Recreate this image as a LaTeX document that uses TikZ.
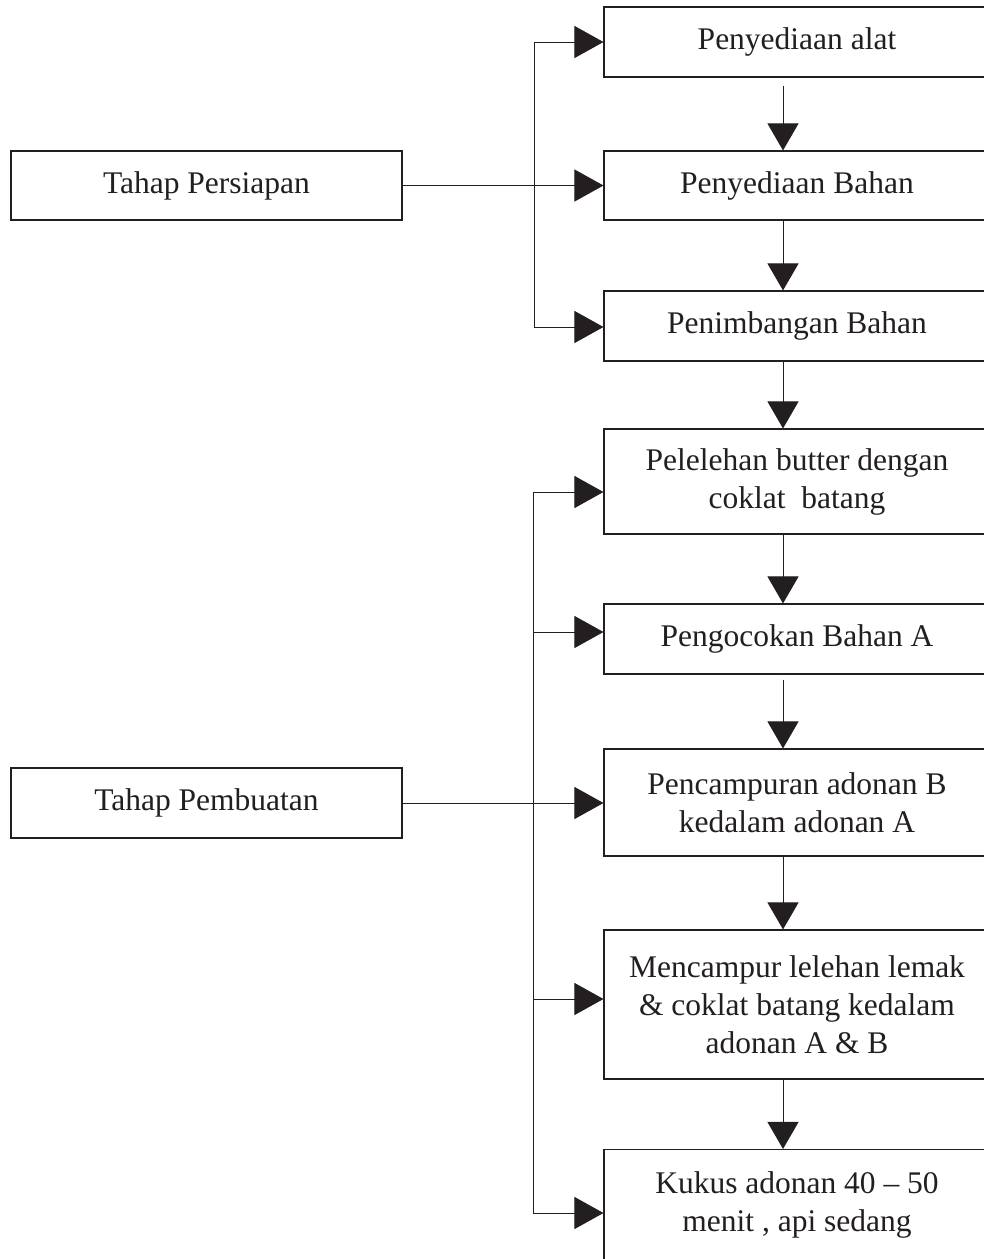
\documentclass[tikz,border=0pt]{standalone}
\usepackage{fontspec}
\setmainfont{Liberation Serif}
\usetikzlibrary{arrows.meta}
\definecolor{ink}{HTML}{231F20}
\begin{document}
\begin{tikzpicture}[x=1pt,y=-1pt,
  box/.style={draw=ink,line width=1.1pt,text=ink,inner sep=0pt,align=center,
    font=\fontsize{31.5}{38}\selectfont},
  rbox/.style={box,minimum width=386pt},
  lbox/.style={box,minimum width=391pt},
  harr/.style={draw=ink,line width=0.9pt,-{Triangle[length=29pt,width=32pt]}},
  varr/.style={draw=ink,line width=0.9pt,-{Triangle[length=27pt,width=31pt]}},
  link/.style={draw=ink,line width=0.9pt}]
\clip (0,0) rectangle (984,1259);
\fill[white] (0,0) rectangle (984,1259);
% right column
\node[rbox,minimum height=70pt] (pa) at (797,42) {Penyediaan alat};
\node[rbox,minimum height=69pt] (pb) at (797,185.5) {Penyediaan Bahan};
\node[rbox,minimum height=70pt] (pn) at (797,326) {Penimbangan Bahan};
\node[rbox,minimum height=105pt] (pl) at (797,481.5) {Pelelehan butter dengan\\coklat\ \ batang};
\node[rbox,minimum height=70pt] (pg) at (797,639) {\raisebox{7pt}{Pengocokan Bahan A}};
\node[rbox,minimum height=107pt] (pc) at (797,802.5) {Pencampuran adonan B\\kedalam adonan A};
\node[rbox,minimum height=149pt] (mc) at (797,1004.5) {Mencampur lelehan lemak\\\&\ coklat batang kedalam\\adonan A \& B};
\node[rbox,minimum height=110pt] (kk) at (797,1204.5) {Kukus adonan 40 -- 50\\menit , api sedang};
% left column
\node[lbox,minimum height=69pt] (tp) at (206.5,185.5) {Tahap Persiapan};
\node[lbox,minimum height=70pt] (tb) at (206.5,803) {Tahap Pembuatan};
% helper coordinates
\coordinate (ax) at (783,0);
\coordinate (b1t) at (534,42);
\coordinate (b1b) at (534,327);
\coordinate (b2a) at (533,492);
\coordinate (b2b) at (533,632);
\coordinate (b2c) at (533,803);
\coordinate (b2d) at (533,999);
\coordinate (b2e) at (533,1213);
% first bracket
\draw[link] (b1t) -- (b1b);
\draw[harr] (b1t) -- (b1t -| pa.west);
\draw[harr] (tp.east) -- (tp.east -| pb.west);
\draw[harr] (b1b) -- (b1b -| pn.west);
% second bracket
\draw[link] (b2a) -- (b2e);
\draw[harr] (b2a) -- (b2a -| pl.west);
\draw[harr] (b2b) -- (b2b -| pg.west);
\draw[harr] (tb.east) -- (tb.east -| pc.west);
\draw[harr] (b2d) -- (b2d -| mc.west);
\draw[harr] (b2e) -- (b2e -| kk.west);
% vertical arrows
\draw[varr,shorten <=8pt] (pa.south -| ax) -- (pb.north -| ax);
\draw[varr] (pb.south -| ax) -- (pn.north -| ax);
\draw[varr] (pn.south -| ax) -- (pl.north -| ax);
\draw[varr] (pl.south -| ax) -- (pg.north -| ax);
\draw[varr,shorten <=5pt] (pg.south -| ax) -- (pc.north -| ax);
\draw[varr] (pc.south -| ax) -- (mc.north -| ax);
\draw[varr] (mc.south -| ax) -- (kk.north -| ax);
\end{tikzpicture}
\end{document}
